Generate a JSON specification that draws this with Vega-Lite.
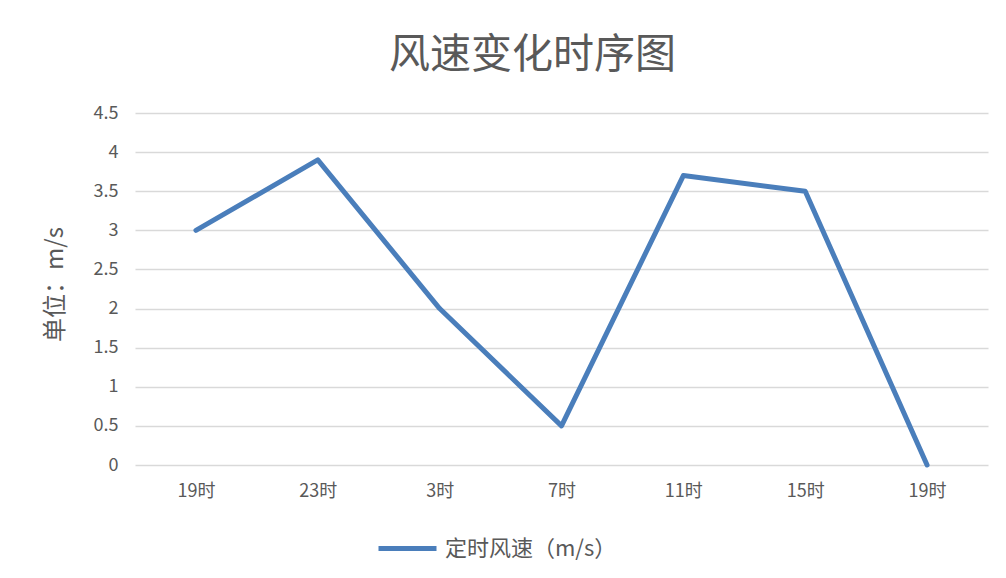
{
  "$schema": "https://vega.github.io/schema/vega-lite/v6.json",
  "width": 853,
  "height": 352,
  "autosize": "none",
  "padding": {"left": 135, "top": 113, "right": 18, "bottom": 113},
  "background": "white",
  "title": {
    "text": "风速变化时序图",
    "font": "Noto Sans CJK SC",
    "fontSize": 41,
    "fontWeight": "normal",
    "color": "#595959",
    "anchor": "middle",
    "dx": -29,
    "offset": 27
  },
  "data": {
    "values": [
      {"时刻": "1|19时", "风速": 3.0},
      {"时刻": "2|23时", "风速": 3.9},
      {"时刻": "3|3时", "风速": 2.0},
      {"时刻": "4|7时", "风速": 0.5},
      {"时刻": "5|11时", "风速": 3.7},
      {"时刻": "6|15时", "风速": 3.5},
      {"时刻": "7|19时", "风速": 0.0}
    ]
  },
  "mark": {"type": "line", "strokeWidth": 5, "strokeCap": "round", "strokeJoin": "round"},
  "encoding": {
    "x": {
      "field": "时刻",
      "type": "ordinal",
      "sort": null,
      "scale": {"type": "point", "padding": 0.5},
      "axis": {
        "title": null,
        "labelExpr": "split(datum.value, '|')[1]",
        "labelAngle": 0,
        "labelFont": "Noto Sans CJK SC",
        "labelFontSize": 18,
        "labelColor": "#595959",
        "labelPadding": 17,
        "domain": false,
        "ticks": false,
        "grid": false
      }
    },
    "y": {
      "field": "风速",
      "type": "quantitative",
      "scale": {"domain": [0, 4.5], "nice": false},
      "axis": {
        "values": [0, 0.5, 1, 1.5, 2, 2.5, 3, 3.5, 4, 4.5],
        "format": "~g",
        "title": "单位：m/s",
        "titleFont": "Noto Sans CJK SC",
        "titleFontSize": 24,
        "titleFontWeight": "normal",
        "titleColor": "#595959",
        "titleX": -80,
        "titleY": 171,
        "titleAngle": -90,
        "titleBaseline": "middle",
        "titleAlign": "center",
        "labelFont": "Noto Sans CJK SC",
        "labelFontSize": 18,
        "labelColor": "#595959",
        "labelPadding": 17,
        "domain": false,
        "ticks": false,
        "grid": true,
        "gridColor": "#d9d9d9",
        "gridWidth": 1.5
      }
    },
    "color": {
      "datum": "定时风速（m/s）",
      "type": "nominal",
      "scale": {"range": ["#4a7ebb"]},
      "legend": {
        "title": null,
        "orient": "none",
        "legendX": 241,
        "legendY": 404,
        "symbolType": "stroke",
        "symbolSize": 3364,
        "symbolStrokeWidth": 5,
        "labelFont": "Noto Sans CJK SC",
        "labelFontSize": 22,
        "labelColor": "#595959",
        "labelOffset": 6,
        "labelLimit": 400
      }
    }
  },
  "config": {"view": {"stroke": null}}
}
